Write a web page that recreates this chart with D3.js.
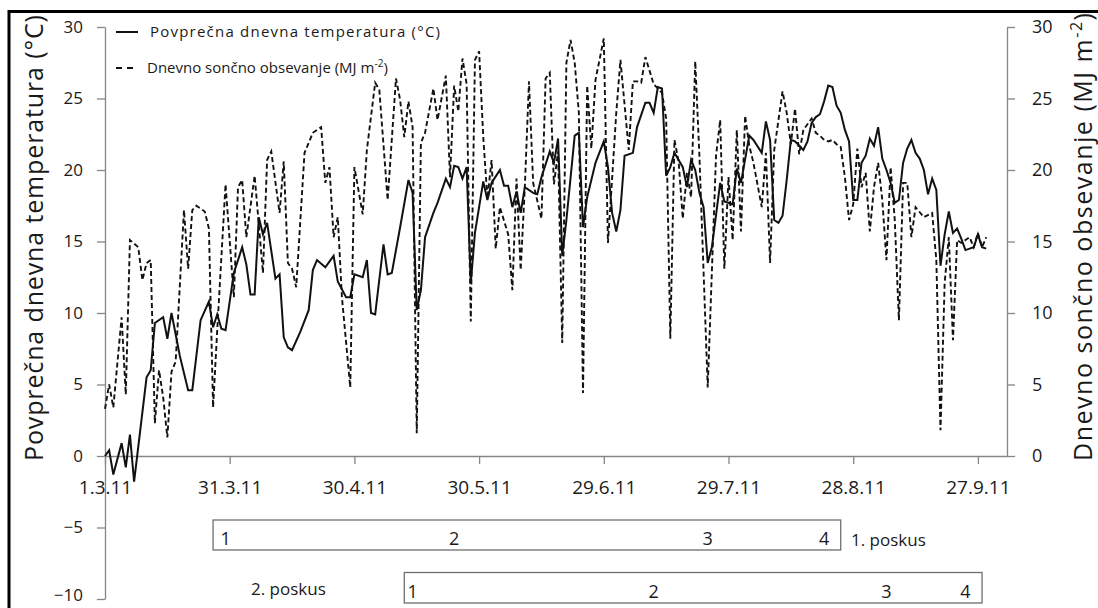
<!DOCTYPE html>
<html>
<head>
<meta charset="utf-8">
<script src="https://cdn.jsdelivr.net/npm/d3@7"></script>
<style>
  body { margin: 0; background: #fff; }
  svg text { font-family: "Open Sans", sans-serif; fill: #1a1a1a; }
</style>
</head>
<body>
<div id="chart"></div>
<script>
// day offsets are counted from startDate
const startDate = "2011-03-01";
const axisEndDate = "2011-10-04";
const xTickDates = ["2011-03-01", "2011-03-31", "2011-04-30", "2011-05-30",
  "2011-06-29", "2011-07-29", "2011-08-28", "2011-09-27"];

// [day, °C]
const temperature = [[0,0.0],[1,0.4],[2,-1.3],[4,0.9],[5,-0.8],[6,1.5],[7,-1.8],[10,5.5],[11,6.0],
  [12,9.3],[14,9.7],[15,8.2],[16,10.0],[18,7.0],[20,4.6],[21,4.6],[23,9.5],[25,10.8],[26,9.0],
  [27,9.9],[28,8.9],[29,8.8],[31,12.8],[33,14.6],[34,13.4],[35,11.3],[36,11.3],[37,16.7],[38,15.5],
  [39,16.3],[41,12.4],[42,12.7],[43,8.3],[44,7.6],[45,7.4],[47,8.7],[49,10.2],[50,13.0],[51,13.7],
  [53,13.2],[55,14.0],[56,12.2],[58,11.1],[59,11.1],[60,12.7],[62,12.5],[63,13.7],[64,10.0],[65,9.9],
  [67,14.8],[68,12.7],[69,12.8],[71,16.0],[73,19.3],[74,18.4],[75,10.2],[76,11.6],[77,15.3],[79,17.0],
  [80,17.7],[82,19.4],[83,18.8],[84,20.3],[85,20.2],[86,19.4],[87,20.2],[88,12.1],[89,15.6],[91,19.2],
  [92,17.9],[93,19.1],[95,20.0],[96,18.9],[97,18.9],[98,17.4],[99,18.5],[100,17.0],[101,18.8],
  [103,18.4],[104,18.3],[105,19.5],[107,21.3],[108,20.5],[109,22.2],[110,14.0],[111,16.5],[113,22.4],
  [114,22.6],[115,16.0],[116,18.1],[118,20.5],[120,22.0],[121,20.2],[122,17.0],[123,15.7],[124,17.2],
  [125,21.0],[127,21.2],[128,23.0],[130,24.7],[131,24.7],[132,24.0],[133,25.8],[134,25.7],[135,19.6],
  [136,20.2],[137,21.2],[139,20.2],[140,18.8],[141,20.7],[142,20.0],[143,18.4],[144,17.4],[145,13.5],
  [146,14.6],[148,19.1],[149,17.8],[151,17.6],[152,20.1],[153,19.1],[155,22.4],[156,22.1],[158,21.2],
  [159,23.4],[160,22.1],[161,16.5],[162,16.3],[163,16.8],[164,19.3],[165,22.1],[166,22.0],[168,21.4],
  [169,22.0],[170,23.3],[171,23.7],[172,23.9],[173,24.8],[174,25.9],[175,25.8],[176,24.5],[177,24.0],
  [178,22.8],[179,22.0],[180,17.9],[181,17.9],[182,20.5],[183,21.0],[184,22.2],[185,21.7],[186,23.0],
  [187,20.8],[188,20.0],[189,19.1],[190,17.7],[191,17.9],[192,20.5],[193,21.5],[194,22.1],[195,21.2],
  [196,20.8],[197,20.0],[198,18.3],[199,19.4],[200,18.6],[201,13.3],[202,15.5],[203,17.1],[204,15.6],
  [205,15.9],[206,15.2],[207,14.4],[208,14.5],[209,14.6],[210,15.5],[211,14.6],[212,14.5]];

// [day, MJ m-2]
const radiation = [[0,3.3],[1,5.0],[2,3.4],[4,9.7],[5,4.3],[6,15.1],[8,14.6],[9,12.3],[10,13.5],
  [11,13.7],[12,2.3],[13,6.0],[14,4.1],[15,1.3],[16,5.9],[17,6.6],[19,17.2],[20,13.1],[21,17.2],
  [22,17.5],[24,17.1],[25,15.9],[26,3.4],[27,8.8],[29,19.0],[31,11.1],[32,18.8],[33,19.3],[34,15.3],
  [36,19.6],[38,12.8],[39,20.7],[40,21.3],[42,17.0],[43,20.6],[44,13.5],[45,13.1],[46,11.8],[48,21.2],
  [50,22.6],[52,23.0],[53,19.1],[54,20.2],[55,15.3],[56,16.7],[57,11.1],[59,4.8],[60,20.2],[62,16.9],
  [63,21.4],[65,26.1],[66,25.6],[68,17.9],[70,26.4],[71,24.9],[72,22.3],[73,24.8],[74,23.0],[75,1.6],
  [76,21.9],[77,22.6],[79,25.7],[80,23.5],[82,26.6],[83,19.5],[84,25.9],[85,24.1],[86,27.8],[87,26.0],
  [88,9.4],[89,27.7],[90,28.3],[91,22.3],[92,18.0],[93,20.7],[94,14.5],[95,17.4],[97,15.5],[98,11.6],
  [99,19.4],[100,13.0],[101,18.8],[102,26.2],[103,19.1],[105,16.6],[106,26.4],[107,26.8],[108,19.0],
  [109,21.3],[110,7.9],[111,27.5],[112,29.1],[113,27.5],[114,24.0],[115,4.4],[116,25.9],[117,21.5],
  [118,26.3],[120,29.2],[121,14.9],[122,19.4],[123,24.0],[124,27.7],[126,21.4],[127,26.2],[128,26.2],
  [129,26.1],[130,27.9],[132,26.0],[134,25.4],[135,23.6],[136,8.2],[137,22.1],[138,20.6],[139,16.6],
  [140,19.8],[141,18.1],[142,27.6],[143,21.0],[145,4.8],[147,21.0],[148,23.5],[149,13.1],[150,19.5],
  [151,15.1],[152,22.8],[153,15.7],[154,23.8],[155,21.7],[156,20.5],[158,17.4],[159,21.2],[160,13.5],
  [161,21.4],[163,25.5],[164,24.0],[165,21.8],[166,24.3],[167,21.1],[168,22.8],[169,23.2],[170,23.6],
  [171,22.6],[172,22.4],[173,22.1],[174,22.0],[175,22.1],[176,21.8],[177,21.6],[178,19.5],[179,16.5],
  [180,17.6],[181,21.5],[182,18.8],[183,19.8],[184,15.7],[185,18.8],[186,20.5],[187,17.9],[188,13.7],
  [189,20.2],[190,16.5],[191,9.5],[192,19.1],[193,19.1],[194,15.3],[195,17.4],[197,16.7],[199,17.0],
  [200,13.7],[201,1.8],[202,12.1],[203,15.3],[204,8.1],[205,15.1],[206,14.9],[207,15.1],[208,15.3],
  [209,14.6],[210,15.6],[211,14.6],[212,15.3]];

// experiment periods (poskus) and the phase numbers written inside them
const trialNames = ["1. poskus", "2. poskus"];
const trialStart = ["2011-03-27", "2011-05-12"];
const trialEnd = ["2011-08-25", "2011-09-28"];
const phaseLabels = ["1", "2", "3", "4"];
const phaseDates = [
  ["2011-03-30", "2011-05-24", "2011-07-24", "2011-08-21"],
  ["2011-05-14", "2011-07-11", "2011-09-05", "2011-09-24"]
];

const legendNames = ["Povprečna dnevna temperatura (°C)", "Dnevno sončno obsevanje (MJ m"];

const width = 1098, height = 608;
const parse = d3.utcParse("%Y-%m-%d");
const t0 = parse(startDate);
const dayToDate = d => d3.utcDay.offset(t0, d);

const svg = d3.select("#chart").append("svg")
  .attr("width", width)
  .attr("height", height);

// outer frame, only its top and left edges are inside the picture
svg.append("rect")
  .attr("x", 9).attr("y", 11.5)
  .attr("width", 1200).attr("height", 800)
  .attr("fill", "none")
  .attr("stroke", "#000")
  .attr("stroke-width", 3);

const x = d3.scaleUtc()
  .domain([t0, parse(axisEndDate)])
  .range([105, 1007]);
const yL = d3.scaleLinear().domain([-10, 30]).range([599, 27]);
const yR = d3.scaleLinear().domain([0, 30]).range([yL(0), yL(30)]);

const axisColor = "#868686";
function styleAxis(g, size) {
  g.select(".domain").attr("stroke", axisColor).attr("stroke-width", 1.3);
  g.selectAll(".tick line").attr("stroke", axisColor).attr("stroke-width", 1.3);
  g.selectAll(".tick text").attr("font-size", size).attr("fill", "#1a1a1a");
}

// left axis
svg.append("g")
  .attr("transform", "translate(105,0)")
  .call(d3.axisLeft(yL).tickValues(d3.range(-10, 31, 5)).tickSize(8).tickPadding(14).tickSizeOuter(0))
  .call(g => styleAxis(g, 17))
  .call(g => g.selectAll(".tick text").filter(d => d === -10).attr("dy", "0.1em"));

// right axis
svg.append("g")
  .attr("transform", "translate(1007,0)")
  .call(d3.axisRight(yR).tickValues(d3.range(0, 31, 5)).tickSize(8).tickPadding(17).tickSizeOuter(0))
  .call(g => styleAxis(g, 18));

// date axis on the zero line
const fmt = d3.utcFormat("%-d.%-m.%y");
svg.append("g")
  .attr("transform", `translate(0,${yL(0)})`)
  .call(d3.axisBottom(x).tickValues(xTickDates.map(parse)).tickFormat(fmt)
    .tickSize(8).tickPadding(17).tickSizeOuter(0))
  .call(g => styleAxis(g, 19));

// axis titles
svg.append("text")
  .attr("transform", "translate(43,238) rotate(-90)")
  .attr("text-anchor", "middle")
  .attr("font-size", 25)
  .attr("textLength", 446)
  .text("Povprečna dnevna temperatura (°C)");

const rt = svg.append("text")
  .attr("transform", "translate(1092,237) rotate(-90)")
  .attr("text-anchor", "middle")
  .attr("font-size", 25)
  .attr("textLength", 448);
rt.append("tspan").text("Dnevno sončno obsevanje (MJ m");
rt.append("tspan").attr("font-size", 16).attr("dy", -10).text("-2");
rt.append("tspan").attr("dy", 10).text(")");

// series
const tempLine = d3.line()
  .x(d => x(dayToDate(d[0])))
  .y(d => yL(d[1]));
const radLine = d3.line()
  .x(d => x(dayToDate(d[0])))
  .y(d => yR(d[1]));

svg.append("path")
  .datum(radiation)
  .attr("d", radLine)
  .attr("fill", "none")
  .attr("stroke", "#111")
  .attr("stroke-width", 1.9)
  .attr("stroke-dasharray", "5,3");

svg.append("path")
  .datum(temperature)
  .attr("d", tempLine)
  .attr("fill", "none")
  .attr("stroke", "#111")
  .attr("stroke-width", 2);

// legend
const lg = svg.append("g");
lg.append("line").attr("x1", 116).attr("x2", 138).attr("y1", 32).attr("y2", 32)
  .attr("stroke", "#111").attr("stroke-width", 2);
lg.append("line").attr("x1", 116).attr("x2", 134).attr("y1", 68).attr("y2", 68)
  .attr("stroke", "#111").attr("stroke-width", 2).attr("stroke-dasharray", "6,5");
lg.append("text").attr("x", 150).attr("y", 37).attr("font-size", 15)
  .attr("textLength", 290).text(legendNames[0]);
const l2 = lg.append("text").attr("x", 147).attr("y", 73).attr("font-size", 15);
l2.append("tspan").text(legendNames[1]);
l2.append("tspan").attr("font-size", 10).attr("dy", -6).text("-2");
l2.append("tspan").attr("dy", 6).text(")");

// trial boxes
const boxTop = [520, 572.5], boxH = [30, 30.5];
trialNames.forEach((name, i) => {
  const x0 = x(parse(trialStart[i])), x1 = x(parse(trialEnd[i]));
  svg.append("rect")
    .attr("x", x0).attr("y", boxTop[i])
    .attr("width", x1 - x0).attr("height", boxH[i])
    .attr("fill", "#fff")
    .attr("stroke", "#6e6e6e")
    .attr("stroke-width", 1.3);
  phaseDates[i].forEach((d, j) => {
    svg.append("text")
      .attr("x", x(parse(d)))
      .attr("y", boxTop[i] + 25)
      .attr("text-anchor", "middle")
      .attr("font-size", 18)
      .text(phaseLabels[j]);
  });
});
svg.append("text").attr("x", 851).attr("y", 546).attr("font-size", 17).text(trialNames[0]);
svg.append("text").attr("x", 251).attr("y", 595).attr("font-size", 17).text(trialNames[1]);
</script>
</body>
</html>
